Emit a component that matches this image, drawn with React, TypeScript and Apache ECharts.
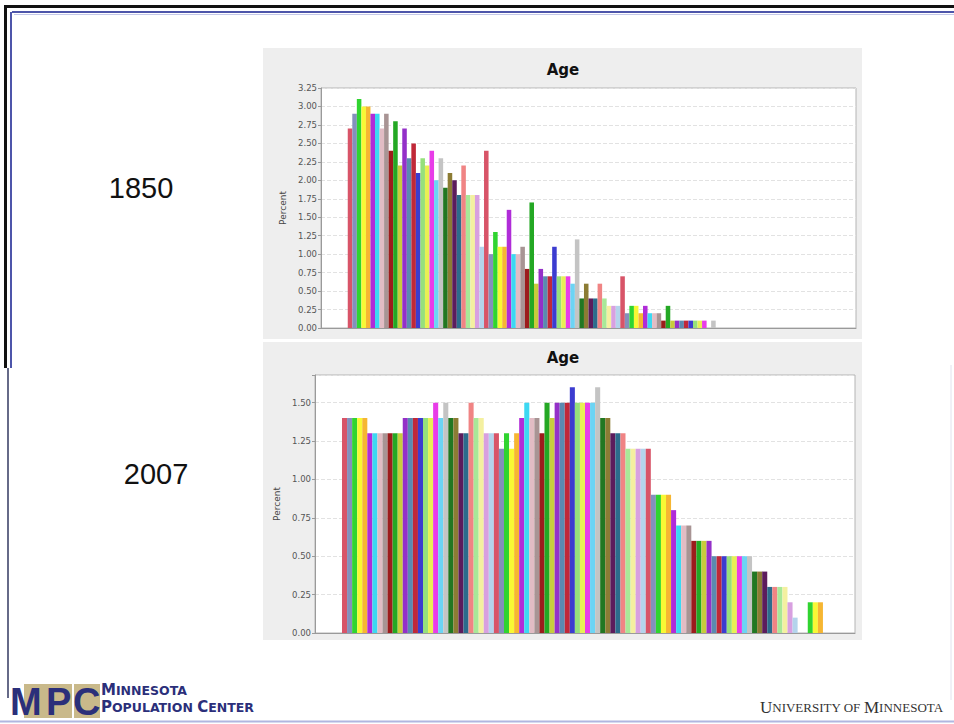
import React, { useEffect, useRef } from "react";
import * as echarts from "echarts";

// Percent of population by single year of age (index = age)
const AGE_PCT_1850 = [
  2.7, 2.9, 3.1, 3.0, 3.0, 2.9, 2.9, 2.7, 2.9, 2.4,
  2.8, 2.2, 2.7, 2.3, 2.5, 2.1, 2.3, 2.2, 2.4, 2.0,
  2.3, 1.9, 2.1, 2.0, 1.8, 2.2, 1.8, 1.8, 1.8, 1.1,
  2.4, 1.0, 1.3, 1.1, 1.1, 1.6, 1.0, 1.0, 1.1, 0.8,
  1.7, 0.6, 0.8, 0.7, 0.7, 1.1, 0.7, 0.7, 0.7, 0.6,
  1.2, 0.4, 0.6, 0.4, 0.4, 0.6, 0.4, 0.3, 0.3, 0.3,
  0.7, 0.2, 0.3, 0.3, 0.2, 0.3, 0.2, 0.2, 0.2, 0.1,
  0.3, 0.1, 0.1, 0.1, 0.1, 0.1, 0.1, 0.1, 0.1, 0.0,
  0.1,
];

const AGE_PCT_2007 = [
  1.4, 1.4, 1.4, 1.4, 1.4, 1.3, 1.3, 1.3, 1.3, 1.3,
  1.3, 1.3, 1.4, 1.4, 1.4, 1.4, 1.4, 1.4, 1.5, 1.4,
  1.5, 1.4, 1.4, 1.3, 1.3, 1.5, 1.4, 1.4, 1.3, 1.3,
  1.3, 1.2, 1.3, 1.2, 1.3, 1.4, 1.5, 1.4, 1.4, 1.3,
  1.5, 1.4, 1.5, 1.5, 1.5, 1.6, 1.5, 1.5, 1.5, 1.5,
  1.6, 1.4, 1.4, 1.3, 1.3, 1.3, 1.2, 1.2, 1.2, 1.2,
  1.2, 0.9, 0.9, 0.9, 0.9, 0.8, 0.7, 0.7, 0.7, 0.6,
  0.6, 0.6, 0.6, 0.5, 0.5, 0.5, 0.5, 0.5, 0.5, 0.5,
  0.5, 0.4, 0.4, 0.4, 0.3, 0.3, 0.3, 0.3, 0.2, 0.1,
  0.0, 0.0, 0.2, 0.2, 0.2,
];

// Number of age slots on each category band (layout of the original chart)
const SLOTS_1850 = 106;
const SLOTS_2007 = 96;

const Y_MAX_1850 = 3.25;
const Y_MAX_2007 = 1.68;
const Y_STEP = 0.25;

const TITLE = "Age";
const Y_NAME = "Percent";
const YEARS = ["1850", "2007"];

// 30-colour series palette, cycling by age
const PALETTE = [
  "#d85468", "#8490bc", "#30d430", "#f8f834", "#f6b632", "#b02cd8",
  "#3cd8f2", "#e2bcc4", "#a89494", "#9c1c1c", "#24a824", "#c8cc3c",
  "#9430c8", "#5a8ab0", "#c02838", "#3c3cd0", "#96e07c", "#e8f054",
  "#e83ce8", "#6cd4f4", "#c4c4c4", "#227722", "#8c7c34", "#5c1c5c",
  "#2c6c8c", "#f08484", "#a8e898", "#f4f0a0", "#d8a0e0", "#b4d4ec",
];

export default function App() {
  const ref = useRef<HTMLDivElement>(null);

  useEffect(() => {
    if (!ref.current) return;
    const chart = echarts.init(ref.current, null, { renderer: "svg" });

    const g0 = { left: 321, top: 88, width: 535, height: 240 };
    const g1 = { left: 315, top: 375, width: 540, height: 258 };

    const ext = (n: number) => {
      const m = n / 18;
      return { min: -0.5 - m, max: n - 0.5 + m };
    };
    const e0 = ext(SLOTS_1850);
    const e1 = ext(SLOTS_2007);
    const bw0 = g0.width / (e0.max - e0.min);
    const bw1 = g1.width / (e1.max - e1.min);

    const toData = (arr: number[]) =>
      arr.map((v, i) => ({ value: [i, v], itemStyle: { color: PALETTE[i % PALETTE.length] } }));

    const fmt = (v: number) => {
      const q = v / Y_STEP;
      return Math.abs(q - Math.round(q)) < 1e-6 ? v.toFixed(2) : "";
    };

    const yAxisBase = (gridIndex: number, max: number) => ({
      type: "value",
      gridIndex,
      min: 0,
      max,
      interval: Y_STEP,
      name: Y_NAME,
      nameLocation: "middle",
      nameRotate: 90,
      nameGap: 34,
      nameTextStyle: { fontSize: 9, color: "#444", fontFamily: "DejaVu Sans" },
      axisLine: { show: true, onZero: false, lineStyle: { color: "#9a9a9a" } },
      axisTick: { show: true, length: 3, lineStyle: { color: "#9a9a9a" } },
      axisLabel: { fontSize: 8.5, color: "#555", margin: 4, fontFamily: "DejaVu Sans", formatter: fmt },
      splitLine: { show: true, lineStyle: { color: "#e2e2e2", type: "dashed" } },
    });

    const xAxisBase = (gridIndex: number, e: { min: number; max: number }) => ({
      type: "value",
      gridIndex,
      min: e.min,
      max: e.max,
      axisLine: { show: true, onZero: false, lineStyle: { color: "#9a9a9a" } },
      axisTick: { show: false },
      axisLabel: { show: false },
      splitLine: { show: false },
    });

    const navy = "#2b2f7a";
    const khaki = "#c9b98a";
    const center = { align: "center", verticalAlign: "middle", textAlign: "center", textVerticalAlign: "middle" };
    const mpcRich = {
      a: { fontSize: 15, fontWeight: "bold", fontFamily: "DejaVu Sans", fill: navy, color: navy },
      b: { fontSize: 12.5, fontWeight: "bold", fontFamily: "DejaVu Sans", fill: navy, color: navy },
    };

    const option = {
      animation: false,
      backgroundColor: "#ffffff",
      grid: [
        { ...g0, show: true, backgroundColor: "#ffffff", borderColor: "#b4b4b4", borderWidth: 1 },
        { ...g1, show: true, backgroundColor: "#ffffff", borderColor: "#b4b4b4", borderWidth: 1 },
      ],
      xAxis: [xAxisBase(0, e0), xAxisBase(1, e1)],
      yAxis: [yAxisBase(0, Y_MAX_1850), yAxisBase(1, Y_MAX_2007)],
      series: [
        {
          type: "bar",
          xAxisIndex: 0,
          yAxisIndex: 0,
          barWidth: bw0,
          data: toData(AGE_PCT_1850),
        },
        {
          type: "bar",
          xAxisIndex: 1,
          yAxisIndex: 1,
          barWidth: bw1,
          data: toData(AGE_PCT_2007),
        },
      ],
      graphic: [
        // chart panels
        { type: "rect", z: -10, shape: { x: 263, y: 48, width: 599, height: 291 }, style: { fill: "#eeeeee" } },
        { type: "rect", z: -10, shape: { x: 263, y: 342, width: 599, height: 298 }, style: { fill: "#eeeeee" } },
        // titles
        { type: "text", x: 563, y: 70, style: { text: TITLE, font: "bold 15px 'DejaVu Sans'", fill: "#111", ...center } },
        { type: "text", x: 563, y: 358, style: { text: TITLE, font: "bold 15px 'DejaVu Sans'", fill: "#111", ...center } },
        // year labels
        { type: "text", x: 141, y: 188, style: { text: YEARS[0], font: "29px 'Liberation Sans'", fill: "#111", ...center } },
        { type: "text", x: 156, y: 474, style: { text: YEARS[1], font: "29px 'Liberation Sans'", fill: "#111", ...center } },
        // slide frame
        { type: "line", shape: { x1: 4, y1: 6.5, x2: 954, y2: 6.5 }, style: { stroke: "#111111", lineWidth: 3 } },
        { type: "line", shape: { x1: 12, y1: 12, x2: 954, y2: 12 }, style: { stroke: "#4d55aa", lineWidth: 2 } },
        { type: "line", shape: { x1: 14, y1: 14.5, x2: 954, y2: 14.5 }, style: { stroke: "#c4c8ea", lineWidth: 1 } },
        { type: "line", shape: { x1: 5.5, y1: 5, x2: 5.5, y2: 368 }, style: { stroke: "#111111", lineWidth: 3 } },
        { type: "line", shape: { x1: 11, y1: 12, x2: 11, y2: 368 }, style: { stroke: "#4d55aa", lineWidth: 2 } },
        { type: "line", shape: { x1: 8, y1: 368, x2: 8, y2: 698 }, style: { stroke: "#666a88", lineWidth: 2 } },
        { type: "line", shape: { x1: 951, y1: 365, x2: 951, y2: 700 }, style: { stroke: "#e2e2ee", lineWidth: 1 } },
        { type: "line", shape: { x1: 0, y1: 721.5, x2: 954, y2: 721.5 }, style: { stroke: "#b0b6e0", lineWidth: 2 } },
        // MPC logo
        { type: "rect", shape: { x: 24, y: 684, width: 20, height: 34 }, style: { fill: khaki } },
        { type: "rect", shape: { x: 44, y: 684, width: 28, height: 34 }, style: { fill: khaki } },
        { type: "rect", shape: { x: 74, y: 684, width: 26, height: 34 }, style: { fill: khaki } },
        { type: "text", x: 10, y: 702, style: { text: "M", font: "bold 38px 'Liberation Sans'", fill: navy, verticalAlign: "middle", textVerticalAlign: "middle" } },
        { type: "text", x: 46, y: 702, style: { text: "P", font: "bold 38px 'Liberation Sans'", fill: navy, verticalAlign: "middle", textVerticalAlign: "middle" } },
        { type: "text", x: 73, y: 702, style: { text: "C", font: "bold 38px 'Liberation Sans'", fill: navy, verticalAlign: "middle", textVerticalAlign: "middle" } },
        {
          type: "text", x: 101, y: 690,
          style: { text: "{a|M}{b|INNESOTA}", verticalAlign: "middle", textVerticalAlign: "middle", rich: mpcRich },
        },
        {
          type: "text", x: 101, y: 707,
          style: { text: "{a|P}{b|OPULATION }{a|C}{b|ENTER}", verticalAlign: "middle", textVerticalAlign: "middle", rich: mpcRich },
        },
        {
          type: "text", x: 760, y: 707,
          style: {
            text: "{a|U}{b|NIVERSITY OF }{a|M}{b|INNESOTA}",
            verticalAlign: "middle", textVerticalAlign: "middle",
            rich: {
              a: { fontSize: 17, fontFamily: "Liberation Serif", fill: "#333", color: "#333" },
              b: { fontSize: 13, fontFamily: "Liberation Serif", fill: "#333", color: "#333" },
            },
          },
        },
      ],
    };

    chart.setOption(option as any);
    return () => chart.dispose();
  }, []);

  return (
    <div
      ref={ref}
      style={{ position: "fixed", left: 0, top: 0, width: 954, height: 724, background: "#fff" }}
    />
  );
}
